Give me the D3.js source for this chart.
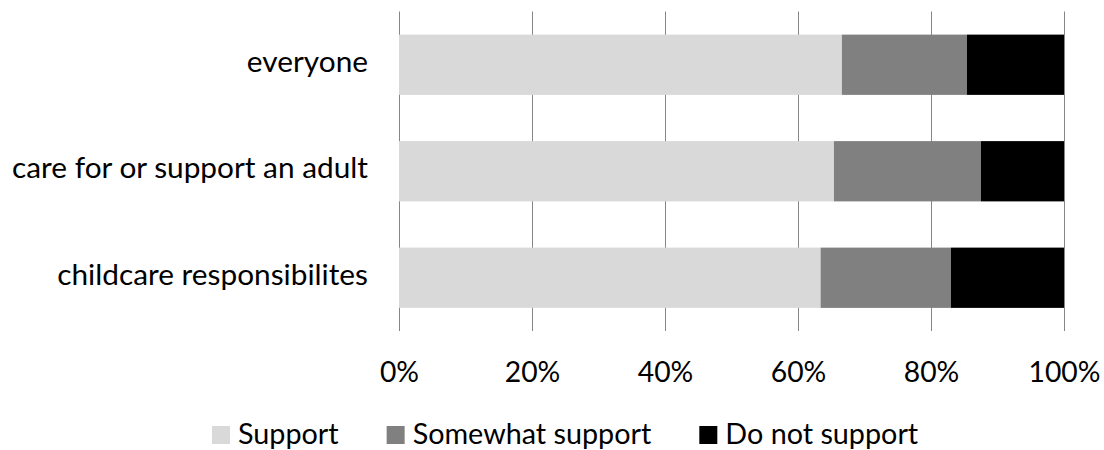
<!DOCTYPE html>
<html>
<head>
<meta charset="utf-8">
<script src="https://cdn.jsdelivr.net/npm/d3@7"></script>
<style>
  body { margin: 0; background: #fff; }
  text { font-family: Lato, "Open Sans", sans-serif; fill: #000; }
</style>
</head>
<body>
<svg id="chart" width="1104" height="450"></svg>
<script>
// data (percent of respondents)
const categories = ["everyone", "care for or support an adult", "childcare responsibilites"];
const seriesNames = ["Support", "Somewhat support", "Do not support"];
const support = [66.6, 65.4, 63.4];
const somewhat = [18.8, 22.1, 19.6];
const doNot = [14.6, 12.5, 17.0];
const xTicks = [0, 20, 40, 60, 80, 100];
const colors = ["#d9d9d9", "#808080", "#000000"];

const svg = d3.select("#chart");

// pick a font size so the long label spans about the same width as in the reference
const probe = svg.append("text").style("font-size", "30px").text(categories[1]);
const fs = 30 * 356 / probe.node().getComputedTextLength();
probe.remove();
const tickFs = fs * 0.95;   // Lato digits run wider than the original's
const legendFs = fs * 0.965;

const x = d3.scaleLinear().domain([0, 100]).range([399, 1064]);
const y = d3.scaleBand().domain(categories).range([11.5, 331])
    .paddingInner(0.434).paddingOuter(0.217);

const rows = categories.map((c, i) => ({ cat: c, Support: support[i], "Somewhat support": somewhat[i], "Do not support": doNot[i] }));
const stacked = d3.stack().keys(seriesNames)(rows);

// gridlines
svg.append("g")
    .selectAll("line")
    .data(xTicks)
    .enter()
    .append("line")
    .attr("x1", d => Math.round(x(d)) + 0.5)
    .attr("x2", d => Math.round(x(d)) + 0.5)
    .attr("y1", 11.5)
    .attr("y2", 331)
    .attr("stroke", "#868686")
    .attr("stroke-width", 1);

// bars
svg.append("g")
    .selectAll("g")
    .data(stacked)
    .enter()
    .append("g")
    .attr("fill", (d, i) => colors[i])
    .selectAll("rect")
    .data(d => d)
    .enter()
    .append("rect")
    .attr("x", d => x(d[0]))
    .attr("y", d => y(d.data.cat))
    .attr("width", d => x(d[1]) - x(d[0]))
    .attr("height", y.bandwidth());

// category labels
svg.append("g")
    .selectAll("text")
    .data(categories)
    .enter()
    .append("text")
    .attr("x", 368)
    .attr("y", d => y(d) + y.bandwidth() / 2 + fs * 0.24)
    .attr("text-anchor", "end")
    .style("font-size", fs + "px")
    .text(d => d);

// x axis labels
const xAxis = d3.axisBottom(x).tickValues(xTicks).tickFormat(d => d + "%").tickSize(0).tickPadding(0);
const gx = svg.append("g").attr("transform", "translate(0,382)").call(xAxis);
gx.select(".domain").remove();
gx.selectAll("text")
    .attr("dy", null)
    .attr("y", 0)
    .style("font-size", tickFs + "px")
    .style("font-family", "Lato, 'Open Sans', sans-serif")
    .attr("fill", "#000");

// legend
let lx = 212;
const legend = svg.append("g");
seriesNames.forEach((name, i) => {
    legend.append("rect")
        .attr("x", lx)
        .attr("y", 426)
        .attr("width", 18)
        .attr("height", 18)
        .attr("fill", colors[i]);
    const t = legend.append("text")
        .attr("x", lx + 26)
        .attr("y", 444)
        .style("font-size", legendFs + "px")
        .text(name);
    lx += 26 + t.node().getComputedTextLength() + 48;
});
</script>
</body>
</html>
